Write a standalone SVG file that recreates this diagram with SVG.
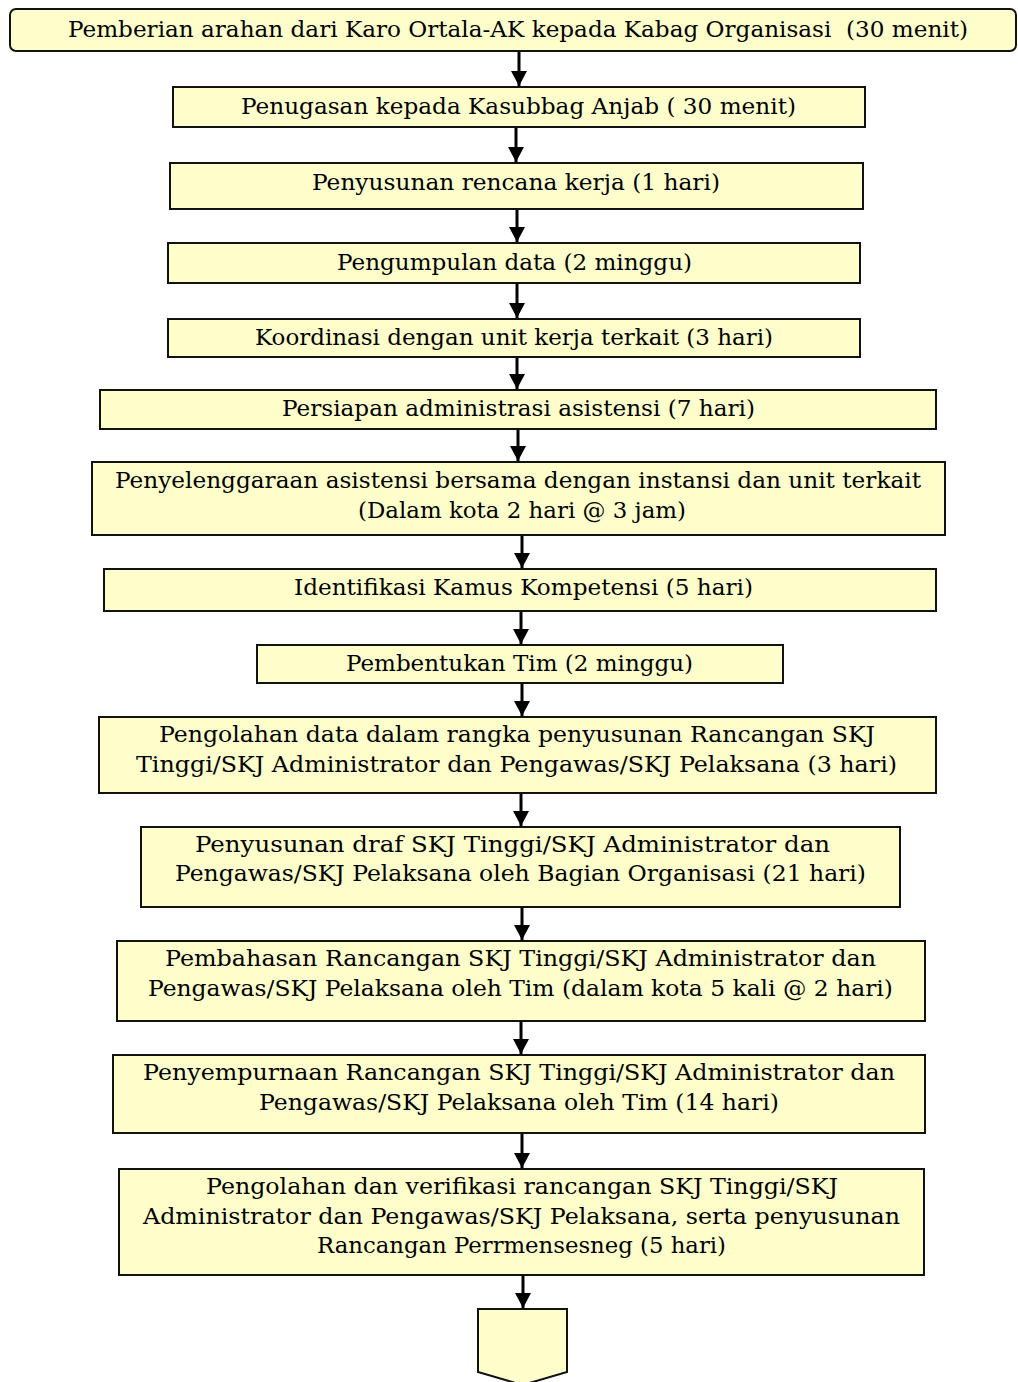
<svg xmlns="http://www.w3.org/2000/svg" width="1018" height="1382" viewBox="0 0 1018 1382">
<style>
.box{fill:#FFFFCC;stroke:#111;stroke-width:2}
.t{font-family:"DejaVu Serif","Liberation Serif",serif;font-size:22px;fill:#000;text-anchor:middle}
.c{stroke:#000;stroke-width:3;fill:none}
</style>
<defs>
<marker id="ah" markerWidth="15" markerHeight="16" refX="15" refY="8" orient="auto" markerUnits="userSpaceOnUse" viewBox="0 0 15 16">
<path d="M0,0 L15,8 L0,16 Z" fill="#000"/>
</marker>
</defs>
<rect width="1018" height="1382" fill="#fff"/>
<g id="connectors">
<line class="c" x1="519" y1="51" x2="519" y2="86" marker-end="url(#ah)"/>
<line class="c" x1="516" y1="127" x2="516" y2="162" marker-end="url(#ah)"/>
<line class="c" x1="517" y1="209" x2="517" y2="242" marker-end="url(#ah)"/>
<line class="c" x1="517" y1="283" x2="517" y2="318" marker-end="url(#ah)"/>
<line class="c" x1="517" y1="357" x2="517" y2="389" marker-end="url(#ah)"/>
<line class="c" x1="518" y1="429" x2="518" y2="461" marker-end="url(#ah)"/>
<line class="c" x1="522" y1="535" x2="522" y2="568" marker-end="url(#ah)"/>
<line class="c" x1="521" y1="611" x2="521" y2="644" marker-end="url(#ah)"/>
<line class="c" x1="522" y1="683" x2="522" y2="716" marker-end="url(#ah)"/>
<line class="c" x1="521" y1="793" x2="521" y2="826" marker-end="url(#ah)"/>
<line class="c" x1="522" y1="907" x2="522" y2="940" marker-end="url(#ah)"/>
<line class="c" x1="521" y1="1021" x2="521" y2="1054" marker-end="url(#ah)"/>
<line class="c" x1="522" y1="1133" x2="522" y2="1168" marker-end="url(#ah)"/>
<line class="c" x1="523" y1="1275" x2="523" y2="1308" marker-end="url(#ah)"/>
</g>
<g id="n1"><rect class="box" x="10" y="9" width="1006" height="42" rx="6"/>
<text class="t" x="518" y="37" textLength="900" lengthAdjust="spacingAndGlyphs" xml:space="preserve">Pemberian arahan dari Karo Ortala-AK kepada Kabag Organisasi  (30 menit)</text></g>
<g id="n2"><rect class="box" x="173" y="87" width="692" height="40"/>
<text class="t" x="518.5" y="114" textLength="555" lengthAdjust="spacingAndGlyphs">Penugasan kepada Kasubbag Anjab ( 30 menit)</text></g>
<g id="n3"><rect class="box" x="170" y="163" width="693" height="46"/>
<text class="t" x="516" y="190" textLength="408" lengthAdjust="spacingAndGlyphs">Penyusunan rencana kerja (1 hari)</text></g>
<g id="n4"><rect class="box" x="168" y="243" width="692" height="40"/>
<text class="t" x="514.5" y="270" textLength="355" lengthAdjust="spacingAndGlyphs">Pengumpulan data (2 minggu)</text></g>
<g id="n5"><rect class="box" x="168" y="319" width="692" height="38"/>
<text class="t" x="514" y="345" textLength="518" lengthAdjust="spacingAndGlyphs">Koordinasi dengan unit kerja terkait (3 hari)</text></g>
<g id="n6"><rect class="box" x="100" y="390" width="836" height="39"/>
<text class="t" x="518.5" y="416" textLength="473" lengthAdjust="spacingAndGlyphs">Persiapan administrasi asistensi (7 hari)</text></g>
<g id="n7"><rect class="box" x="92" y="462" width="853" height="73"/>
<text class="t" x="518" y="488" textLength="806" lengthAdjust="spacingAndGlyphs">Penyelenggaraan asistensi bersama dengan instansi dan unit terkait</text>
<text class="t" x="522" y="518" textLength="328" lengthAdjust="spacingAndGlyphs">(Dalam kota 2 hari @ 3 jam)</text></g>
<g id="n8"><rect class="box" x="104" y="569" width="832" height="42"/>
<text class="t" x="523.5" y="595" textLength="459" lengthAdjust="spacingAndGlyphs">Identifikasi Kamus Kompetensi (5 hari)</text></g>
<g id="n9"><rect class="box" x="257" y="645" width="526" height="38"/>
<text class="t" x="519.5" y="671" textLength="347" lengthAdjust="spacingAndGlyphs">Pembentukan Tim (2 minggu)</text></g>
<g id="n10"><rect class="box" x="99" y="717" width="837" height="76"/>
<text class="t" x="517" y="742" textLength="716" lengthAdjust="spacingAndGlyphs">Pengolahan data dalam rangka penyusunan Rancangan SKJ</text>
<text class="t" x="516.5" y="772" textLength="761" lengthAdjust="spacingAndGlyphs">Tinggi/SKJ Administrator dan Pengawas/SKJ Pelaksana (3 hari)</text></g>
<g id="n11"><rect class="box" x="141" y="827" width="759" height="80"/>
<text class="t" x="512.5" y="852" textLength="635" lengthAdjust="spacingAndGlyphs">Penyusunan draf SKJ Tinggi/SKJ Administrator dan</text>
<text class="t" x="520.5" y="881" textLength="691" lengthAdjust="spacingAndGlyphs">Pengawas/SKJ Pelaksana oleh Bagian Organisasi (21 hari)</text></g>
<g id="n12"><rect class="box" x="117" y="941" width="808" height="80"/>
<text class="t" x="520.5" y="966" textLength="711" lengthAdjust="spacingAndGlyphs">Pembahasan Rancangan SKJ Tinggi/SKJ Administrator dan</text>
<text class="t" x="520.5" y="996" textLength="745" lengthAdjust="spacingAndGlyphs">Pengawas/SKJ Pelaksana oleh Tim (dalam kota 5 kali @ 2 hari)</text></g>
<g id="n13"><rect class="box" x="113" y="1055" width="812" height="78"/>
<text class="t" x="519" y="1080" textLength="752" lengthAdjust="spacingAndGlyphs">Penyempurnaan Rancangan SKJ Tinggi/SKJ Administrator dan</text>
<text class="t" x="519" y="1110" textLength="520" lengthAdjust="spacingAndGlyphs">Pengawas/SKJ Pelaksana oleh Tim (14 hari)</text></g>
<g id="n14"><rect class="box" x="119" y="1169" width="805" height="106"/>
<text class="t" x="522" y="1194" textLength="632" lengthAdjust="spacingAndGlyphs">Pengolahan dan verifikasi rancangan SKJ Tinggi/SKJ</text>
<text class="t" x="521.5" y="1224" textLength="757" lengthAdjust="spacingAndGlyphs">Administrator dan Pengawas/SKJ Pelaksana, serta penyusunan</text>
<text class="t" x="521.5" y="1253" textLength="409" lengthAdjust="spacingAndGlyphs">Rancangan Perrmensesneg (5 hari)</text></g>
<g id="n15"><polygon class="box" points="478,1309 567,1309 567,1372 522.5,1385 478,1372"/></g>
</svg>
